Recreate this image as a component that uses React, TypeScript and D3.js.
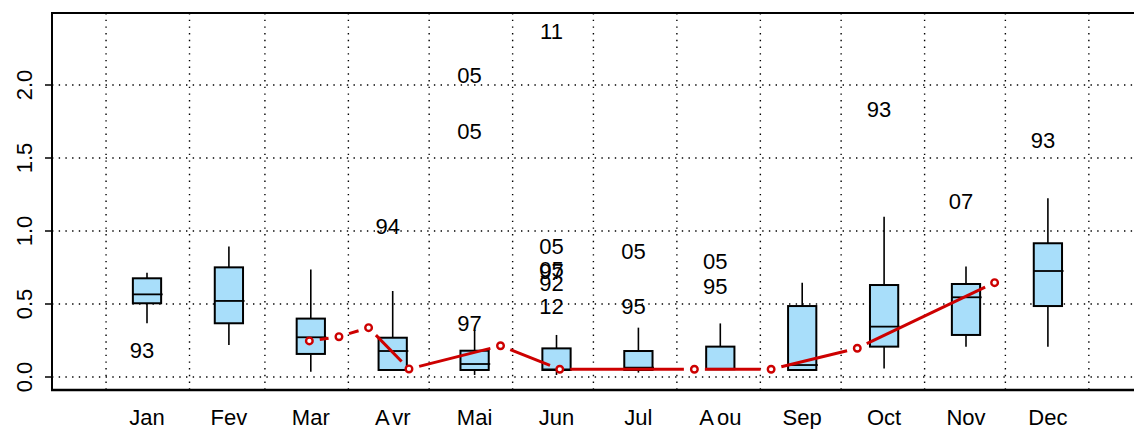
import React from "react";
import * as d3 from "d3";

const months = ["Jan", "Fev", "Mar", "Avr", "Mai", "Jun", "Jul", "Aou", "Sep", "Oct", "Nov", "Dec"];
const whiskerLow = [0.368, 0.219, 0.036, 0.048, 0.014, 0.014, 0.03, 0.053, 0.048, 0.059, 0.208, 0.208];
const q1 = [0.505, 0.368, 0.158, 0.048, 0.048, 0.048, 0.048, 0.053, 0.048, 0.208, 0.288, 0.486];
const median = [0.566, 0.521, 0.272, 0.178, 0.089, 0.052, 0.064, 0.056, 0.082, 0.345, 0.546, 0.726];
const q3 = [0.676, 0.751, 0.4, 0.269, 0.18, 0.196, 0.178, 0.208, 0.486, 0.63, 0.637, 0.916];
const whiskerHigh = [0.714, 0.893, 0.737, 0.589, 0.322, 0.288, 0.338, 0.367, 0.646, 1.098, 0.756, 1.224];

const outlierMonth = [1, 4, 5, 5, 5, 6, 6, 6, 6, 6, 6, 7, 7, 8, 8, 10, 11, 12];
const outlierValue = [0.185, 1.034, 0.367, 1.68, 2.068, 0.486, 0.642, 0.725, 0.738, 0.893, 2.37, 0.486, 0.858, 0.623, 0.79, 1.833, 1.201, 1.62];
const outlierLabel = ["93", "94", "97", "05", "05", "12", "92", "97", "05", "05", "11", "95", "05", "95", "05", "93", "07", "93"];

const monthStartDoy = [0, 31, 59, 90, 120, 151, 181, 212, 243, 273, 304, 334, 365];

const profileDoy = [75.5, 86.5, 97.5, 112.5, 146.5, 168.5, 218.5, 247, 279, 330];
const profileValue = [0.247, 0.276, 0.338, 0.055, 0.214, 0.053, 0.053, 0.053, 0.197, 0.646];

const yTicks = [0, 0.5, 1, 1.5, 2];

const W = 1134;
const H = 429;
const FONT = "'Liberation Sans', Arial, Helvetica, sans-serif";

export default function App() {
  const x = d3.scaleLinear().domain([0.5, 12.5]).range([106.05, 1088.85]);
  const y = d3.scaleLinear().domain([0, 2]).range([377, 85]);
  const doyToMonth = (d: number) => 0.5 + d / (365 / 12);

  const left = x(-0.16);
  const right = x(13.16);
  const top = y(2.493);
  const bottom = y(-0.089);
  const boxW = x(0.345) - x(0);
  const red = "#CD0000";
  const gap = 10.5;

  const pts = profileDoy.map((d, i) => [x(doyToMonth(d)), y(profileValue[i])]);
  const segs: [number, number, number, number][] = [];
  for (let i = 0; i < pts.length - 1; i++) {
    const [x0, y0] = pts[i];
    const [x1, y1] = pts[i + 1];
    const len = Math.hypot(x1 - x0, y1 - y0);
    if (len <= 2 * gap) continue;
    const ux = (x1 - x0) / len;
    const uy = (y1 - y0) / len;
    segs.push([x0 + ux * gap, y0 + uy * gap, x1 - ux * gap, y1 - uy * gap]);
  }

  return (
    <svg
      width={W}
      height={H}
      style={{ position: "absolute", left: 0, top: 0, background: "#fff" }}
      fontFamily={FONT}
    >
      <rect x={0} y={0} width={W} height={H} fill="#fff" />
      {/* grid */}
      {monthStartDoy.map((d, i) => (
        <line
          key={"vg" + i}
          x1={x(doyToMonth(d))}
          x2={x(doyToMonth(d))}
          y1={top}
          y2={bottom}
          stroke="#000"
          strokeWidth={1.4}
          strokeDasharray="1.4 5.3"
        />
      ))}
      {yTicks.map((t, i) => (
        <line
          key={"hg" + i}
          x1={left}
          x2={right}
          y1={y(t)}
          y2={y(t)}
          stroke="#000"
          strokeWidth={1.4}
          strokeDasharray="1.4 5.3"
        />
      ))}
      {/* boxes */}
      {months.map((m, i) => {
        const cx = x(i + 1);
        return (
          <g key={"b" + i}>
            <line x1={cx} x2={cx} y1={y(q3[i])} y2={y(whiskerHigh[i])} stroke="#000" strokeWidth={1.6} />
            <line x1={cx} x2={cx} y1={y(q1[i])} y2={y(whiskerLow[i])} stroke="#000" strokeWidth={1.6} />
            <rect
              x={cx - boxW / 2}
              y={y(q3[i])}
              width={boxW}
              height={y(q1[i]) - y(q3[i])}
              fill="#A8DEFA"
              stroke="#000"
              strokeWidth={2}
            />
            <line
              x1={cx - boxW / 2}
              x2={cx + boxW / 2 + 1.5}
              y1={y(median[i])}
              y2={y(median[i])}
              stroke="#000"
              strokeWidth={1.8}
            />
          </g>
        );
      })}
      {/* outlier labels */}
      {outlierLabel.map((lab, i) => (
        <text
          key={"o" + i}
          x={x(outlierMonth[i]) - 5}
          y={y(outlierValue[i])}
          dy="0.35em"
          textAnchor="middle"
          fontSize={22}
          fill="#000"
        >
          {lab}
        </text>
      ))}
      {/* red profile */}
      {segs.map((s, i) => (
        <line key={"s" + i} x1={s[0]} y1={s[1]} x2={s[2]} y2={s[3]} stroke={red} strokeWidth={3} />
      ))}
      {pts.map((p, i) => (
        <circle key={"p" + i} cx={p[0]} cy={p[1]} r={3.3} fill="#fff" stroke={red} strokeWidth={2.4} />
      ))}
      {/* frame */}
      <line x1={left} x2={left} y1={top} y2={bottom} stroke="#000" strokeWidth={2} />
      <line x1={left - 1} x2={right} y1={top} y2={top} stroke="#000" strokeWidth={2} />
      <line x1={left - 1} x2={right} y1={bottom} y2={bottom} stroke="#000" strokeWidth={2.5} />
      {/* y axis */}
      {yTicks.map((t, i) => (
        <g key={"yt" + i}>
          <line x1={left - 7} x2={left} y1={y(t)} y2={y(t)} stroke="#000" strokeWidth={1.5} />
          <text
            transform={`translate(32,${y(t)}) rotate(-90)`}
            textAnchor="middle"
            fontSize={22}
            fill="#000"
          >
            {d3.format(".1f")(t)}
          </text>
        </g>
      ))}
      {/* x labels */}
      {months.map((m, i) => (
        <text key={"xl" + i} x={x(i + 1)} y={425} textAnchor="middle" fontSize={22} fill="#000">
          {m.startsWith("A") ? (
            <>
              <tspan>{m[0]}</tspan>
              <tspan dx={3}>{m.slice(1)}</tspan>
            </>
          ) : (
            m
          )}
        </text>
      ))}
    </svg>
  );
}
